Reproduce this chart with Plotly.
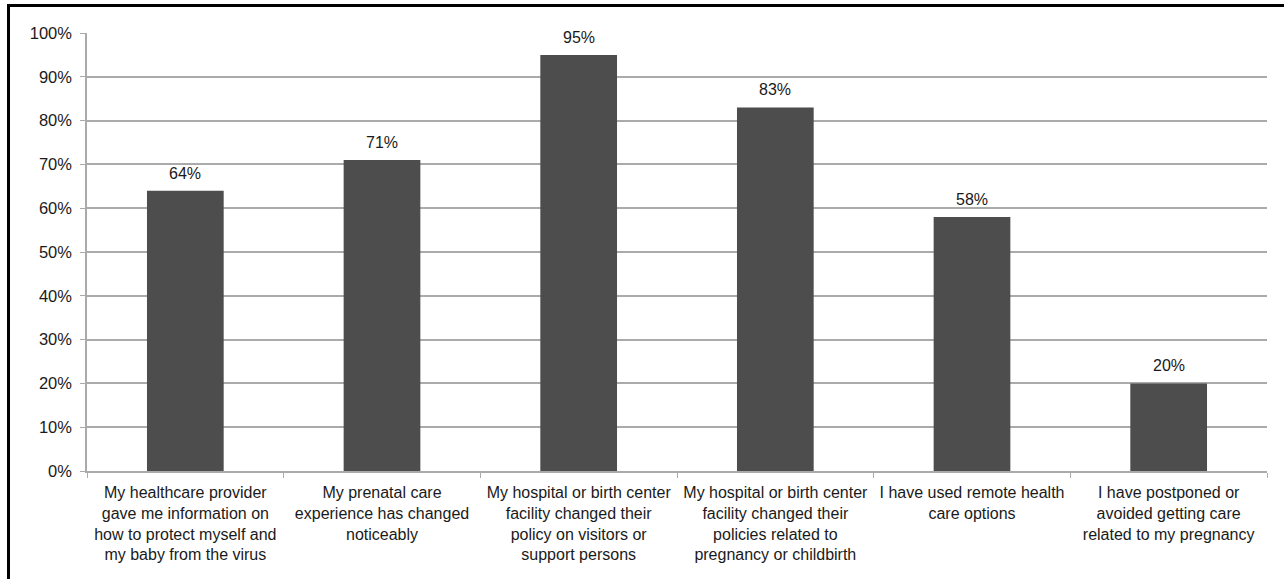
import plotly.graph_objects as go

categories = [
    "My healthcare provider<br>gave me information on<br>how to protect myself and<br>my baby from the virus",
    "My prenatal care<br>experience has changed<br>noticeably",
    "My hospital or birth center<br>facility changed their<br>policy on visitors or<br>support persons",
    "My hospital or birth center<br>facility changed their<br>policies related to<br>pregnancy or childbirth",
    "I have used remote health<br>care options",
    "I have postponed or<br>avoided getting care<br>related to my pregnancy",
]
values = [64, 71, 95, 83, 58, 20]
value_labels = ["64%", "71%", "95%", "83%", "58%", "20%"]
ytick_vals = [0, 10, 20, 30, 40, 50, 60, 70, 80, 90, 100]
ytick_text = ["0%", "10%", "20%", "30%", "40%", "50%", "60%", "70%", "80%", "90%", "100%"]

FONT = "Liberation Sans, Arial, Helvetica, sans-serif"
GRID = "#aaaaaa"
TXT = "#1a1a1a"

fig = go.Figure()
fig.add_trace(go.Bar(x=categories, y=values, marker=dict(color="#4d4d4d", line=dict(width=0)),
                     width=0.39, hoverinfo="skip"))

for c, v, t in zip(categories, values, value_labels):
    fig.add_annotation(x=c, y=v, text=t, showarrow=False, yanchor="bottom", yshift=7,
                       font=dict(family=FONT, size=16, color=TXT))

W, H = 1284, 579
L, R, T, B = 87, 17, 33, 108
pw, ph = W - L - R, H - T - B

def px_x(x):
    return (x - L) / pw

def px_y(y):
    return 1 - (y - T) / ph

# outer frame (top and left edges visible)
fig.add_shape(type="line", xref="paper", yref="paper", x0=px_x(8), x1=px_x(W + 5),
              y0=px_y(5.5), y1=px_y(5.5), line=dict(color="black", width=3))
fig.add_shape(type="line", xref="paper", yref="paper", x0=px_x(8.5), x1=px_x(8.5),
              y0=px_y(4), y1=px_y(H + 5), line=dict(color="black", width=3))

fig.update_layout(
    width=W, height=H,
    margin=dict(l=L, r=R, t=T, b=B),
    paper_bgcolor="white", plot_bgcolor="white",
    showlegend=False,
    font=dict(family=FONT, size=16, color=TXT),
    bargap=0.61,
)
fig.update_xaxes(
    showgrid=False, showline=True, linecolor=GRID, linewidth=1.5,
    ticks="outside", ticklen=5, tickcolor=GRID, tickson="boundaries",
    tickfont=dict(family=FONT, size=16, color=TXT),
    tickangle=0, ticklabelstandoff=6,
)
fig.update_yaxes(
    range=[0, 100], tickvals=ytick_vals, ticktext=ytick_text,
    showgrid=True, gridcolor=GRID, gridwidth=1.5,
    showline=True, linecolor=GRID, linewidth=1.5,
    ticks="outside", ticklen=5, tickcolor=GRID,
    tickfont=dict(family=FONT, size=16.5, color=TXT),
    zeroline=False, ticklabelstandoff=5,
)

fig.write_html("out.html")
